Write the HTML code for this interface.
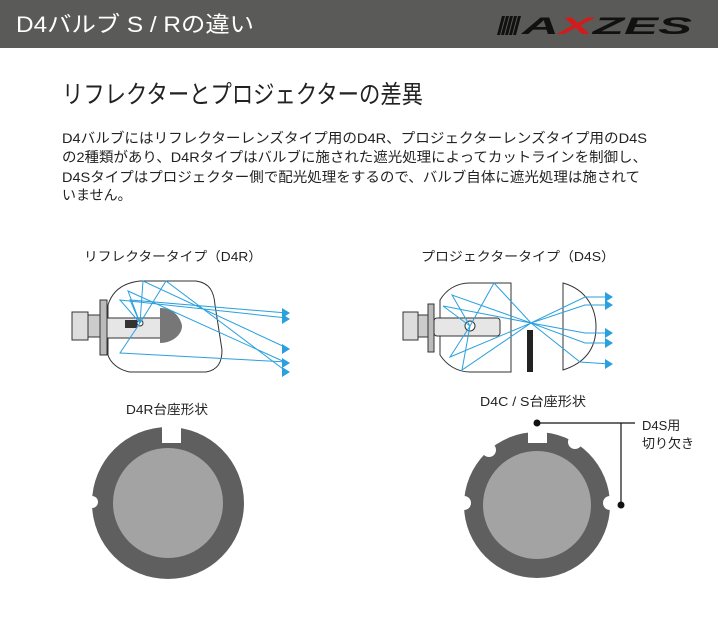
<!DOCTYPE html>
<html><head><meta charset="utf-8"><style>
html,body{margin:0;padding:0;background:#fff;}
svg{display:block;}
text{font-family:"Liberation Sans","Noto Sans CJK JP",sans-serif;}
</style></head><body>
<svg width="718" height="639" viewBox="0 0 718 639" xmlns="http://www.w3.org/2000/svg">
<rect x="0" y="0" width="718" height="48" fill="#5a5a58"/>
<text x="16" y="32" font-size="22" fill="#fff" textLength="238" lengthAdjust="spacingAndGlyphs">D4バルブ S / Rの違い</text>
<g fill="#111">
<polygon points="502,16 505,16 500,35 497,35"/>
<polygon points="506,16 509,16 504,35 501,35"/>
<polygon points="510,16 513,16 508,35 505,35"/>
<polygon points="514,16 517,16 512,35 509,35"/>
<polygon points="518,16 521,16 516,35 513,35"/>
</g>
<text x="522" y="34" font-size="24" font-weight="bold" font-style="italic" fill="#111" font-family="Liberation Serif" textLength="170" lengthAdjust="spacingAndGlyphs">A<tspan fill="#d21c1c">X</tspan>ZES</text>

<text x="62" y="103" font-size="25" fill="#222" textLength="361" lengthAdjust="spacingAndGlyphs">リフレクターとプロジェクターの差異</text>
<g font-size="14" fill="#222">
<text x="62" y="143" textLength="585" lengthAdjust="spacingAndGlyphs">D4バルブにはリフレクターレンズタイプ用のD4R、プロジェクターレンズタイプ用のD4S</text>
<text x="62" y="162" textLength="585" lengthAdjust="spacingAndGlyphs">の2種類があり、D4Rタイプはバルブに施された遮光処理によってカットラインを制御し、</text>
<text x="62" y="182" textLength="578" lengthAdjust="spacingAndGlyphs">D4Sタイプはプロジェクター側で配光処理をするので、バルブ自体に遮光処理は施されて</text>
<text x="62" y="200">いません。</text>
</g>
<g font-size="13" fill="#222">
<text x="84" y="261" textLength="178" lengthAdjust="spacingAndGlyphs">リフレクタータイプ（D4R）</text>
<text x="421" y="261" textLength="194" lengthAdjust="spacingAndGlyphs">プロジェクタータイプ（D4S）</text>
<text x="126" y="414" textLength="82" lengthAdjust="spacingAndGlyphs">D4R台座形状</text>
<text x="480" y="406" textLength="106" lengthAdjust="spacingAndGlyphs">D4C / S台座形状</text>
<text x="642" y="430">D4S用</text>
<text x="642" y="448">切り欠き</text>
</g>

<!-- Reflector diagram -->
<g stroke="#333" stroke-width="1" fill="#fff">
<path d="M108,305 C112,292 122,283 140,281 L196,281 C210,283 214,292 215,305 L222,350 C222,362 218,370 206,372 L130,372 C118,370 110,362 108,355 Z"/>
<rect x="72" y="312" width="16" height="28" fill="#ddd"/>
<rect x="88" y="315" width="12" height="22" fill="#ccc"/>
<rect x="100" y="300" width="7" height="55" fill="#bbb"/>
<rect x="107" y="318" width="55" height="20" fill="#e6e6e6"/>
</g>
<path d="M160,308 C178,308 182,324 182,326 C182,335 172,343 160,343 Z" fill="#777"/>
<rect x="125" y="320" width="12" height="8" fill="#333"/>
<circle cx="140" cy="323" r="3" fill="#fff" stroke="#333"/>
<g stroke="#2aa0de" stroke-width="1" fill="none">
<polyline points="140,323 130,300 287,313"/>
<polyline points="140,323 120,300 287,318"/>
<polyline points="140,323 143,281 287,348"/>
<polyline points="140,323 166,281 287,372"/>
<polyline points="140,323 128,291 287,363"/>
<polyline points="140,323 120,353 287,362"/>
</g>
<g fill="#2aa0de">
<polygon points="282,308 290,313 282,318"/><polygon points="282,314 290,319 282,324"/>
<polygon points="282,344 290,349 282,354"/><polygon points="282,358 290,363 282,368"/>
<polygon points="282,367 290,372 282,377"/>
</g>

<!-- Projector diagram -->
<g stroke="#333" stroke-width="1" fill="#fff">
<path d="M440,300 C446,290 456,283 470,283 L511,283 L511,372 L470,372 C456,372 446,364 440,355 Z"/>
<path d="M563,283 C588,290 596,310 596,327 C596,345 588,362 563,370 Z"/>
<rect x="403" y="312" width="15" height="28" fill="#ddd"/>
<rect x="418" y="315" width="10" height="22" fill="#ccc"/>
<rect x="428" y="304" width="6" height="48" fill="#bbb"/>
<rect x="434" y="318" width="66" height="18" rx="3" fill="#e6e6e6"/>
</g>
<circle cx="470" cy="326" r="5" fill="#fff" stroke="#333"/>
<rect x="527" y="330" width="6" height="42" fill="#222"/>
<g stroke="#2aa0de" stroke-width="1" fill="none">
<polyline points="470,326 452,295 531,323 585,297 610,297"/>
<polyline points="470,326 443,306 531,323 585,305 610,305"/>
<polyline points="470,326 494,283 531,323 585,333 610,333"/>
<polyline points="470,326 450,357 531,323 585,343 610,343"/>
<polyline points="470,326 462,370 531,323 580,362 610,364"/>
</g>
<g fill="#2aa0de">
<polygon points="605,292 613,297 605,302"/><polygon points="605,300 613,305 605,310"/>
<polygon points="605,328 613,333 605,338"/><polygon points="605,338 613,343 605,348"/>
<polygon points="605,359 613,364 605,369"/>
</g>

<!-- D4R base -->
<circle cx="168" cy="503" r="76" fill="#5f5f5f"/>
<rect x="162" y="425" width="19" height="18" fill="#fff"/>
<circle cx="92" cy="502" r="6" fill="#fff"/>
<circle cx="168" cy="503" r="55" fill="#a3a3a3"/>

<!-- D4C/S base -->
<circle cx="537" cy="505" r="73" fill="#5f5f5f"/>
<rect x="528" y="430" width="19" height="13" fill="#fff"/>
<circle cx="575" cy="442" r="7" fill="#fff"/>
<circle cx="489" cy="450" r="7" fill="#fff"/>
<circle cx="464" cy="503" r="7" fill="#fff"/>
<circle cx="610" cy="503" r="7" fill="#fff"/>
<circle cx="537" cy="505" r="54" fill="#a3a3a3"/>
<g stroke="#111" stroke-width="1.2" fill="none"><polyline points="537,423 635,423"/><line x1="621" y1="423" x2="621" y2="505"/></g>
<circle cx="537" cy="423" r="3.5" fill="#111"/>
<circle cx="621" cy="505" r="3.5" fill="#111"/>
</svg>
</body></html>
